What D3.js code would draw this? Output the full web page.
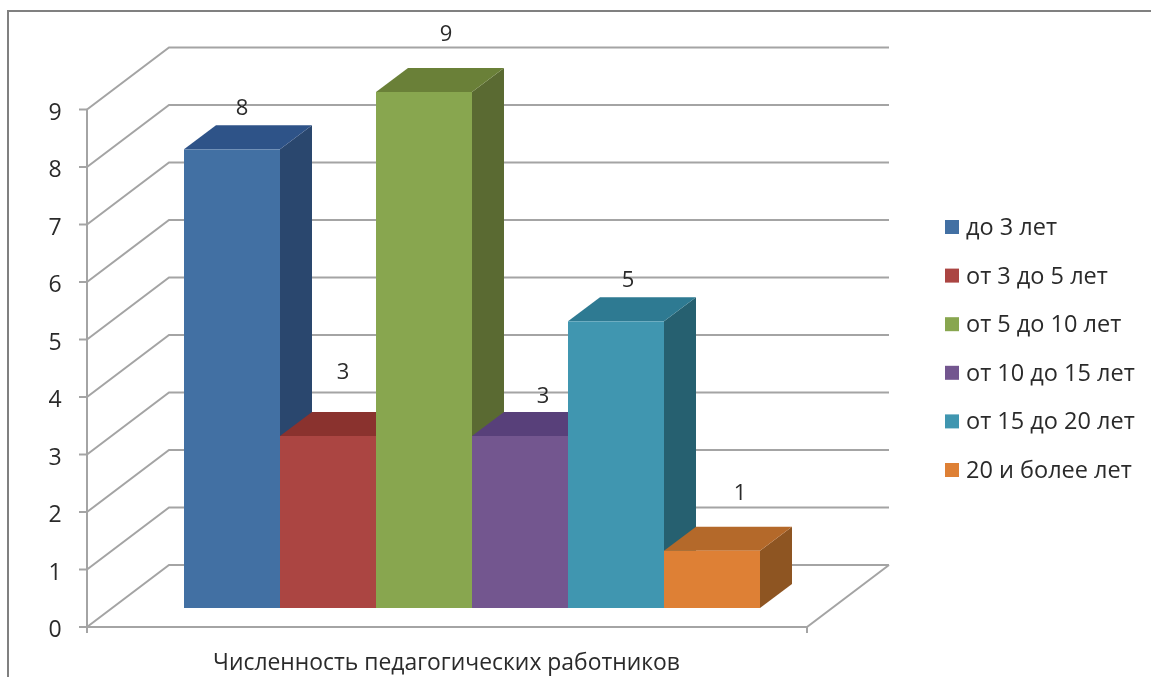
<!DOCTYPE html>
<html><head><meta charset="utf-8">
<script src="https://cdn.jsdelivr.net/npm/d3@7"></script>
<style>
html,body{margin:0;padding:0;background:#fff}
svg{display:block}
text{font-family:"Open Sans","Noto Sans",sans-serif;fill:#2b2b2b}
</style></head><body>
<svg id="c" width="1151" height="677"></svg>
<script>
const categories=["до 3 лет","от 3 до 5 лет","от 5 до 10 лет","от 10 до 15 лет","от 15 до 20 лет","20 и более лет"];
const values=[8,3,9,3,5,1];
const frontColors=["#426fa3","#ab4543","#88a64f","#73568f","#3f96b0","#de8036"];
const topColors=["#2f5388","#8a302e","#6a8038","#59407a","#2e7a92","#b4692a"];
const sideColors=["#2b476e","#6f2b2a","#5a6b33","#4a3564","#26616f","#8e5523"];
const yTicks=[0,1,2,3,4,5,6,7,8,9];
const axisTitle="Численность педагогических работников";
// data-label placement relative to the front-top centre of each bar
const labelDx=[10,15,22,23,12,28];
const labelDy=[-34,-57,-51,-33,-34,-51];

const svg=d3.select("#c");
const defs=svg.append("defs");
defs.append("filter").attr("id","soft").append("feGaussianBlur").attr("stdDeviation",0.55);
const root=svg.append("g").attr("filter","url(#soft)");
const y=d3.scaleLinear().domain([0,9]).range([627,109.5]);
const barY=d3.scaleLinear().domain([0,9]).range([608,92]);
const x=d3.scaleBand().domain(categories).range([184,760]).padding(0);
const wall={dx:82,dy:-62}, frontL=87, frontR=807, bar={dx:32,dy:-24};
const grid="#a4a4a4";
const path=p=>"M"+p.map(d=>d.join(",")).join("L")+"Z";

root.append("rect").attr("width",1151).attr("height",677).attr("fill","#fff");
// frame
root.append("path").attr("d","M8,680V11H1155").attr("fill","none").attr("stroke","#808080").attr("stroke-width",2);

// gridlines
const g=root.append("g").attr("fill","none").attr("stroke",grid).attr("stroke-width",2);
yTicks.forEach(t=>{
  g.append("path").attr("d",`M${frontL},${y(t)}L${frontL+wall.dx},${y(t)+wall.dy}H${frontR+wall.dx}`);
  g.append("path").attr("d",`M${frontL-8},${y(t)}H${frontL}`);
});
g.append("path").attr("d",`M${frontL},${y(9)}V${y(0)+6}`);
g.append("path").attr("d",`M${frontL},${y(0)}H${frontR}L${frontR+wall.dx},${y(0)+wall.dy}`);
g.append("path").attr("d",`M${frontR},${y(0)}v6`);

// y labels
root.append("g").selectAll("text").data(yTicks).join("text")
  .attr("x",55).attr("y",d=>y(d)+10).attr("text-anchor","middle").attr("font-size",23).text(d=>d);

// bars
const b=root.append("g");
categories.forEach((c,i)=>{
  const v=values[i], l=x(c), r=l+x.bandwidth(), t=barY(v), bt=barY(0);
  b.append("path").attr("d",path([[r,bt],[r+bar.dx,bt+bar.dy],[r+bar.dx,t+bar.dy],[r,t]])).attr("fill",sideColors[i]);
  b.append("path").attr("d",path([[l,t],[l+bar.dx,t+bar.dy],[r+bar.dx,t+bar.dy],[r,t]])).attr("fill",topColors[i]);
});
categories.forEach((c,i)=>{
  const v=values[i], l=x(c), t=barY(v), bt=barY(0);
  b.append("rect").attr("x",l).attr("y",t).attr("width",x.bandwidth()).attr("height",bt-t).attr("fill",frontColors[i]);
});

// data labels
root.append("g").selectAll("text").data(values).join("text")
  .attr("x",(d,i)=>x(categories[i])+x.bandwidth()/2+labelDx[i])
  .attr("y",(d,i)=>barY(d)+labelDy[i])
  .attr("text-anchor","middle").attr("font-size",22).text(d=>d);

// axis title
root.append("text").attr("x",446.5).attr("y",670).attr("text-anchor","middle").attr("font-size",22.9).text(axisTitle);

// legend
const ly=d3.scalePoint().domain(categories).range([227,470]);
const leg=root.append("g").selectAll("g").data(categories).join("g").attr("transform",d=>`translate(945,${ly(d)})`);
leg.append("rect").attr("y",-7).attr("width",14).attr("height",14).attr("fill",(d,i)=>frontColors[i]);
leg.append("text").attr("x",21).attr("y",8).attr("font-size",23.5).text(d=>d);
</script>
</body></html>
